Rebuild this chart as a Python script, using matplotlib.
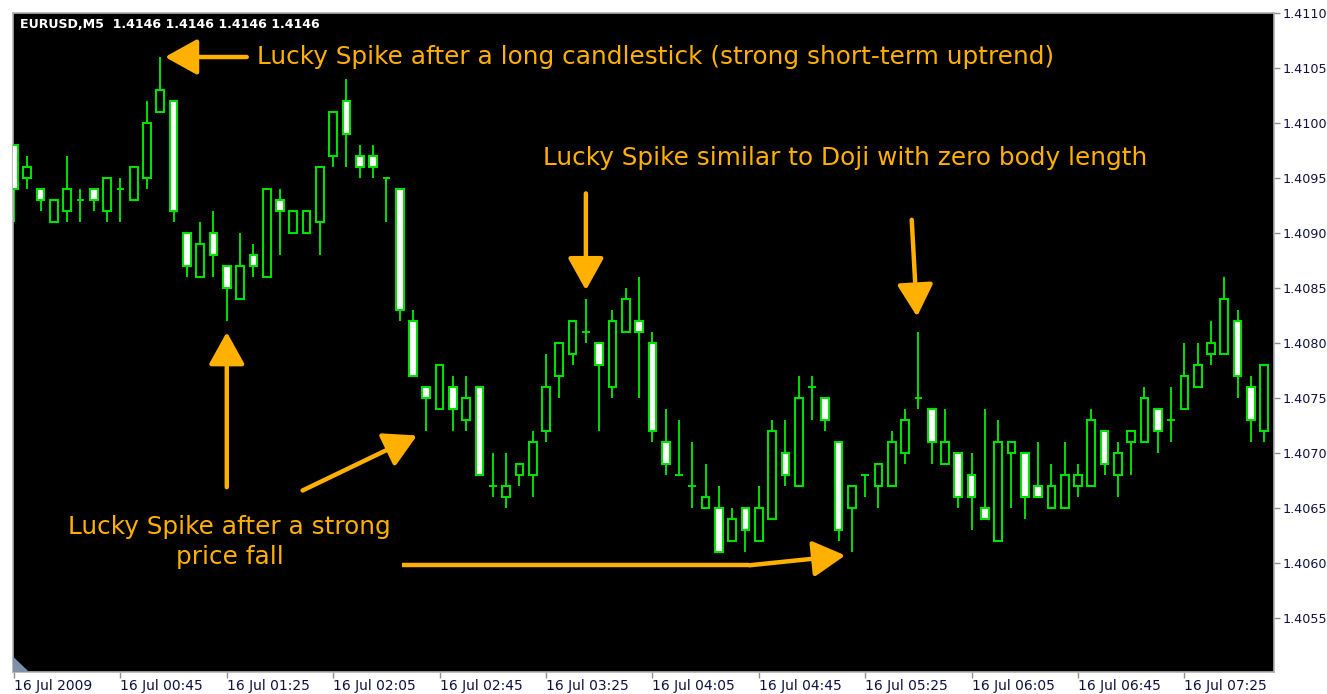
import matplotlib
matplotlib.use('Agg')
import matplotlib.pyplot as plt
import numpy as np

# EURUSD M5 candles, 16 Jul 2009
opens = [1.4098, 1.4095, 1.4094, 1.4091, 1.4092, 1.4093, 1.4094, 1.4092, 1.4094, 1.4093,
         1.4095, 1.4101, 1.4102, 1.4090, 1.4086, 1.4090, 1.4087, 1.4084, 1.4088, 1.4086,
         1.4093, 1.4090, 1.4090, 1.4091, 1.4097, 1.4102, 1.4097, 1.4097, 1.4095, 1.4094,
         1.4082, 1.4076, 1.4074, 1.4076, 1.4073, 1.4076, 1.4067, 1.4066, 1.4068, 1.4068,
         1.4072, 1.4077, 1.4079, 1.4081, 1.4080, 1.4076, 1.4081, 1.4082, 1.4080, 1.4071,
         1.4068, 1.4067, 1.4065, 1.4065, 1.4062, 1.4065, 1.4062, 1.4064, 1.4070, 1.4067,
         1.4076, 1.4075, 1.4071, 1.4065, 1.4068, 1.4067, 1.4067, 1.4070, 1.4075, 1.4074,
         1.4069, 1.4070, 1.4068, 1.4065, 1.4062, 1.4070, 1.4070, 1.4067, 1.4065, 1.4065,
         1.4067, 1.4067, 1.4072, 1.4068, 1.4071, 1.4071, 1.4074, 1.4073, 1.4074, 1.4076,
         1.4079, 1.4079, 1.4082, 1.4076, 1.4072]
highs = [1.4098, 1.4097, 1.4094, 1.4093, 1.4097, 1.4094, 1.4094, 1.4095, 1.4095, 1.4096,
         1.4102, 1.4106, 1.4102, 1.4090, 1.4091, 1.4092, 1.4087, 1.4090, 1.4089, 1.4094,
         1.4094, 1.4092, 1.4092, 1.4096, 1.4101, 1.4104, 1.4098, 1.4098, 1.4095, 1.4094,
         1.4083, 1.4076, 1.4078, 1.4077, 1.4077, 1.4076, 1.4070, 1.4070, 1.4069, 1.4072,
         1.4079, 1.4080, 1.4082, 1.4084, 1.4080, 1.4083, 1.4085, 1.4086, 1.4081, 1.4074,
         1.4073, 1.4071, 1.4069, 1.4067, 1.4065, 1.4065, 1.4067, 1.4073, 1.4073, 1.4077,
         1.4077, 1.4075, 1.4071, 1.4067, 1.4068, 1.4069, 1.4072, 1.4074, 1.4081, 1.4074,
         1.4074, 1.4070, 1.4070, 1.4074, 1.4073, 1.4071, 1.4070, 1.4071, 1.4069, 1.4071,
         1.4069, 1.4074, 1.4072, 1.4071, 1.4072, 1.4076, 1.4074, 1.4076, 1.4080, 1.4080,
         1.4082, 1.4086, 1.4083, 1.4077, 1.4078]
lows = [1.4091, 1.4094, 1.4092, 1.4091, 1.4091, 1.4091, 1.4092, 1.4091, 1.4091, 1.4093,
        1.4094, 1.4101, 1.4091, 1.4086, 1.4086, 1.4086, 1.4082, 1.4084, 1.4086, 1.4086,
        1.4088, 1.4090, 1.4090, 1.4088, 1.4096, 1.4096, 1.4095, 1.4095, 1.4091, 1.4082,
        1.4077, 1.4072, 1.4074, 1.4072, 1.4072, 1.4068, 1.4066, 1.4065, 1.4067, 1.4066,
        1.4071, 1.4075, 1.4078, 1.4080, 1.4072, 1.4075, 1.4081, 1.4075, 1.4071, 1.4068,
        1.4068, 1.4065, 1.4065, 1.4061, 1.4062, 1.4061, 1.4062, 1.4064, 1.4067, 1.4067,
        1.4073, 1.4072, 1.4062, 1.4061, 1.4066, 1.4065, 1.4067, 1.4069, 1.4074, 1.4069,
        1.4069, 1.4065, 1.4063, 1.4064, 1.4062, 1.4065, 1.4064, 1.4066, 1.4065, 1.4065,
        1.4066, 1.4067, 1.4068, 1.4066, 1.4068, 1.4071, 1.4070, 1.4071, 1.4074, 1.4076,
        1.4078, 1.4079, 1.4075, 1.4071, 1.4071]
closes = [1.4094, 1.4096, 1.4093, 1.4093, 1.4094, 1.4093, 1.4093, 1.4095, 1.4094, 1.4096,
          1.4100, 1.4103, 1.4092, 1.4087, 1.4089, 1.4088, 1.4085, 1.4087, 1.4087, 1.4094,
          1.4092, 1.4092, 1.4092, 1.4096, 1.4101, 1.4099, 1.4096, 1.4096, 1.4095, 1.4083,
          1.4077, 1.4075, 1.4078, 1.4074, 1.4075, 1.4068, 1.4067, 1.4067, 1.4069, 1.4071,
          1.4076, 1.4080, 1.4082, 1.4081, 1.4078, 1.4082, 1.4084, 1.4081, 1.4072, 1.4069,
          1.4068, 1.4067, 1.4066, 1.4061, 1.4064, 1.4063, 1.4065, 1.4072, 1.4068, 1.4075,
          1.4076, 1.4073, 1.4063, 1.4067, 1.4068, 1.4069, 1.4071, 1.4073, 1.4075, 1.4071,
          1.4071, 1.4066, 1.4066, 1.4064, 1.4071, 1.4071, 1.4066, 1.4066, 1.4067, 1.4068,
          1.4068, 1.4073, 1.4069, 1.4070, 1.4072, 1.4075, 1.4072, 1.4073, 1.4077, 1.4078,
          1.4080, 1.4084, 1.4077, 1.4073, 1.4078]

time_labels = ["16 Jul 2009", "16 Jul 00:45", "16 Jul 01:25", "16 Jul 02:05",
               "16 Jul 02:45", "16 Jul 03:25", "16 Jul 04:05", "16 Jul 04:45",
               "16 Jul 05:25", "16 Jul 06:05", "16 Jul 06:45", "16 Jul 07:25"]
price_ticks = [1.4055, 1.4060, 1.4065, 1.4070, 1.4075, 1.4080, 1.4085,
               1.4090, 1.4095, 1.4100, 1.4105, 1.4110]

GREEN = '#00e000'
ORANGE = '#ffb000'

o = np.array(opens)
h = np.array(highs)
l = np.array(lows)
c = np.array(closes)
x = np.arange(len(o))

fig = plt.figure(figsize=(13.27, 6.94), dpi=100)
fig.patch.set_facecolor('white')
ax = fig.add_axes([13/1327, 22/694, 1261/1327, 659/694])
ax.set_facecolor('black')

# wicks
ax.vlines(x, l, h, color=GREEN, lw=1.4, zorder=2)

w = 0.58
bull = c > o
bear = c < o
doji = c == o
ax.bar(x[bull], (c - o)[bull], bottom=o[bull], width=w,
       facecolor='black', edgecolor=GREEN, lw=1.5, zorder=3)
ax.bar(x[bear], (o - c)[bear], bottom=c[bear], width=w,
       facecolor='white', edgecolor=GREEN, lw=1.5, zorder=3)
ax.hlines(o[doji], x[doji] - w/2, x[doji] + w/2, color=GREEN, lw=1.4, zorder=3)

ax.set_xlim(-0.075, 94.74)
ax.set_ylim(1.40501, 1.4110)

# axes, MT4 style
ax.yaxis.tick_right()
ax.set_yticks(price_ticks)
ax.set_yticklabels(['%.4f' % p for p in price_ticks])
ax.set_xticks(np.arange(0, 8*len(time_labels), 8))
ax.set_xticklabels(time_labels)
for lab in ax.get_xticklabels():
    lab.set_horizontalalignment('left')
ax.tick_params(axis='both', colors='#909090', length=4, width=1, labelsize=10,
               labelcolor='#101040')
ax.tick_params(axis='x', pad=1)
ax.tick_params(axis='y', pad=2, labelsize=9.2)
for s in ax.spines.values():
    s.set_color('#b0b0b0')
    s.set_linewidth(1.2)

# little grey corner mark
ax.fill([0, 0.012, 0], [0, 0, 0.022], transform=ax.transAxes, color='#8090a8', zorder=5)

ax.text(0.0056, 0.982, 'EURUSD,M5  1.4146 1.4146 1.4146 1.4146', transform=ax.transAxes,
        color='white', fontsize=9.1, fontweight='bold', va='center', ha='left')

# annotations
ap = dict(arrowstyle='-|>,head_length=0.9,head_width=0.5', color=ORANGE, lw=3.2,
          shrinkA=0, shrinkB=0, mutation_scale=22)
tf = dict(color=ORANGE, fontsize=17.8)

ax.annotate('', xy=(11.35, highs[11]), xytext=(17.5, highs[11]), arrowprops=ap)
ax.text(18.3, highs[11], 'Lucky Spike after a long candlestick (strong short-term uptrend)',
        va='center', ha='left', **tf)

ax.text(39.8, 1.40968, 'Lucky Spike similar to Doji with zero body length',
        va='center', ha='left', **tf)
ax.annotate('', xy=(43, 1.40848), xytext=(43, 1.40936), arrowprops=ap)
ax.annotate('', xy=(67.9, 1.40824), xytext=(67.5, 1.40912), arrowprops=ap)

ax.annotate('', xy=(16, 1.4081), xytext=(16, 1.40669), arrowprops=ap)
ax.annotate('', xy=(30.3, 1.40716), xytext=(21.7, 1.40666), arrowprops=ap)
ax.plot([29.2, 55.3], [1.40598, 1.40598], color=ORANGE, lw=3.2, solid_capstyle='butt')
ax.annotate('', xy=(62.5, 1.40607), xytext=(55.3, 1.40598), arrowprops=ap)
ax.text(16.2, 1.40619, 'Lucky Spike after a strong\nprice fall', va='center', ha='center',
        linespacing=1.3, **tf)

fig.savefig('out.png', dpi=100, facecolor='white')
